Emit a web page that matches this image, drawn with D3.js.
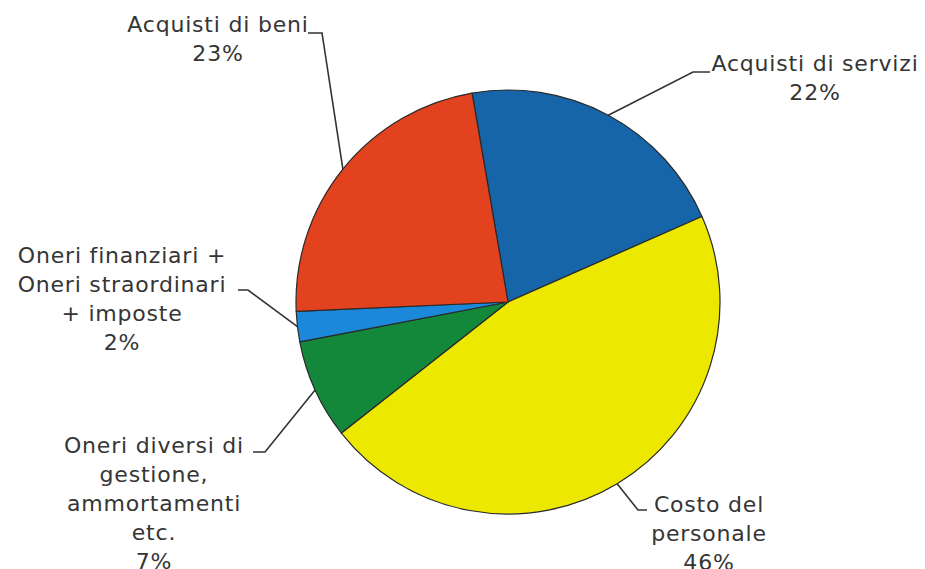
<!DOCTYPE html>
<html lang="it">
<head>
<meta charset="UTF-8">
<title>Ripartizione costi</title>
<script src="https://d3js.org/d3.v7.min.js"></script>
<style>
  body { margin: 0; background: #fff; }
  text { font-family: "DejaVu Sans", Verdana, sans-serif; fill: #353535; }
</style>
</head>
<body>
<div id="main"></div>
<script>
// dati (ordine orario, partendo dall'alto)
var categories = ['Acquisti di servizi', 'Costo del personale',
  'Oneri diversi di gestione, ammortamenti etc.',
  'Oneri finanziari + Oneri straordinari + imposte', 'Acquisti di beni']
var values = [21.1, 46.0, 7.6, 2.3, 23.0]
var pctLabels = ['22%', '46%', '7%', '2%', '23%']
var colors = ['#1565a8', '#ece800', '#13883a', '#1c88da', '#e2421e']

var width = 925, height = 569
var cx = 508, cy = 302, r = 212
var start = -9.75 * Math.PI / 180

// righe delle etichette e punti del gomito della linea guida
var labelLayout = [
  { lines: ['Acquisti di servizi', pctLabels[0]], x: 815, y: 71, elbow: [693, 72], end: [710, 72] },
  { lines: ['Costo del', 'personale', pctLabels[1]], x: 709, y: 512, elbow: [638, 510], end: [647, 510] },
  { lines: ['Oneri diversi di', 'gestione,', 'ammortamenti', 'etc.', pctLabels[2]], x: 154, y: 453, elbow: [265, 452], end: [253, 452] },
  { lines: ['Oneri finanziari +', 'Oneri straordinari', '+ imposte', pctLabels[3]], x: 122, y: 263, elbow: [248, 290], end: [238, 290] },
  { lines: ['Acquisti di beni', pctLabels[4]], x: 218, y: 32, elbow: [322, 33], end: [308, 33] }
]
var lineH = 29

var svg = d3.select('#main').append('svg')
  .attr('width', width).attr('height', height)

var pie = d3.pie().sort(null).value(function (d) { return d })
  .startAngle(start).endAngle(start + 2 * Math.PI)
var arc = d3.arc().innerRadius(0).outerRadius(r)
var arcs = pie(values)

var g = svg.append('g').attr('transform', 'translate(' + cx + ',' + cy + ')')

g.selectAll('path.slice')
  .data(arcs)
  .enter().append('path')
  .attr('class', 'slice')
  .attr('d', arc)
  .attr('fill', function (d, i) { return colors[i] })
  .attr('stroke', '#2a2a2a')
  .attr('stroke-width', 1.2)
  .attr('stroke-linejoin', 'round')

// linee guida
svg.selectAll('polyline.leader')
  .data(arcs)
  .enter().append('polyline')
  .attr('class', 'leader')
  .attr('fill', 'none')
  .attr('stroke', '#333')
  .attr('stroke-width', 1.6)
  .attr('points', function (d, i) {
    var a = (d.startAngle + d.endAngle) / 2
    var px = cx + r * Math.sin(a), py = cy - r * Math.cos(a)
    var L = labelLayout[i]
    return [[px, py], L.elbow, L.end].map(function (p) { return p.join(',') }).join(' ')
  })

// etichette
var lbl = svg.selectAll('text.label')
  .data(labelLayout)
  .enter().append('text')
  .attr('class', 'label')
  .attr('text-anchor', 'middle')
  .attr('font-size', 22)
  .attr('letter-spacing', 0.8)
  .attr('transform', function (d) { return 'translate(' + d.x + ',' + d.y + ')' })

lbl.selectAll('tspan')
  .data(function (d) { return d.lines })
  .enter().append('tspan')
  .attr('x', 0)
  .attr('y', function (t, j) { return j * lineH })
  .text(function (t) { return t })
</script>
</body>
</html>
